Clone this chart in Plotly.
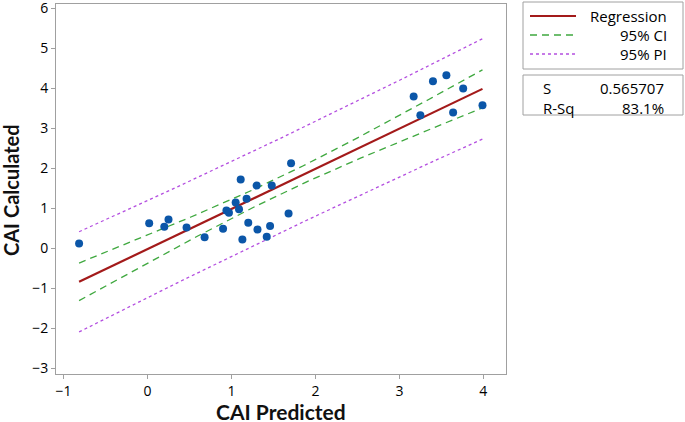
import numpy as np
import plotly.graph_objects as go

# ---- data ----
cai_predicted = [-0.815, 0.02, 0.20, 0.25, 0.465, 0.68, 0.90, 0.94, 0.97, 1.05,
                 1.09, 1.11, 1.13, 1.18, 1.20, 1.30, 1.31, 1.42, 1.46, 1.48,
                 1.68, 1.71, 3.17, 3.25, 3.40, 3.56, 3.64, 3.76, 3.99]
cai_calculated = [0.11, 0.62, 0.53, 0.71, 0.51, 0.27, 0.48, 0.94, 0.88, 1.14,
                  0.97, 1.71, 0.21, 1.23, 0.63, 1.56, 0.46, 0.28, 0.55, 1.56,
                  0.86, 2.12, 3.79, 3.32, 4.17, 4.32, 3.39, 3.99, 3.57]
s_value = 0.565707
s_label = "0.565707"
rsq_label = "83.1%"
t_975_df27 = 2.0518  # Student t quantile for 95% two-sided, n-2 = 27 df
x_ticks = [-1, 0, 1, 2, 3, 4]
y_ticks = [-3, -2, -1, 0, 1, 2, 3, 4, 5, 6]
x_title = "CAI Predicted"
y_title = "CAI Calculated"

x = np.array(cai_predicted)
y = np.array(cai_calculated)
n = len(x)
slope, intercept = np.polyfit(x, y, 1)
xs = np.linspace(x.min(), x.max(), 120)
fit = intercept + slope * xs
xbar = x.mean()
sxx = ((x - xbar) ** 2).sum()
se_mean = s_value * np.sqrt(1.0 / n + (xs - xbar) ** 2 / sxx)
se_pred = s_value * np.sqrt(1.0 + 1.0 / n + (xs - xbar) ** 2 / sxx)
ci_lo, ci_hi = fit - t_975_df27 * se_mean, fit + t_975_df27 * se_mean
pi_lo, pi_hi = fit - t_975_df27 * se_pred, fit + t_975_df27 * se_pred

RED = "#A31A1A"
GREEN = "#3FA83F"
PURPLE = "#B44FE0"
BLUE = "#0B56A8"
FONT = "Open Sans"
TFONT = "Lato"

fig = go.Figure()
for lo_hi, col, dash in [((pi_lo, pi_hi), PURPLE, "3px,3px"), ((ci_lo, ci_hi), GREEN, "7px,5px")]:
    for yy in lo_hi:
        fig.add_trace(go.Scatter(x=xs, y=yy, mode="lines",
                                 line=dict(color=col, width=1.3, dash=dash),
                                 hoverinfo="skip", showlegend=False))
fig.add_trace(go.Scatter(x=xs, y=fit, mode="lines", line=dict(color=RED, width=2.2),
                         showlegend=False))
fig.add_trace(go.Scatter(x=cai_predicted, y=cai_calculated, mode="markers",
                         marker=dict(color=BLUE, size=8), showlegend=False))

W, H = 685, 422
L, R, T, B = 56, 506, 4, 374


def px(v):
    return (v - L) / (R - L)


def py(v):
    return (B - v) / (B - T)


shapes = []
annotations = []
box = dict(type="rect", xref="paper", yref="paper", line=dict(color="#A0A0A0", width=1),
           fillcolor="white", layer="above")
shapes.append(dict(box, x0=px(523), x1=px(683), y0=py(69), y1=py(2)))
shapes.append(dict(box, x0=px(523), x1=px(683), y0=py(115), y1=py(75)))

legend_rows = [("Regression", RED, "solid", 2.2, 16),
               ("95% CI", GREEN, "7px,5px", 1.3, 35),
               ("95% PI", PURPLE, "3px,3px", 1.3, 54)]
for label, col, dash, w, yrow in legend_rows:
    shapes.append(dict(type="line", xref="paper", yref="paper",
                       x0=px(530), x1=px(576), y0=py(yrow), y1=py(yrow),
                       line=dict(color=col, width=w, dash=dash)))
    annotations.append(dict(text=label, xref="paper", yref="paper", x=px(669), y=py(yrow),
                            xanchor="right", yanchor="middle", showarrow=False,
                            font=dict(family=FONT, size=15, color="#000")))

for label, val, yrow in [("S", s_label, 88), ("R-Sq", rsq_label, 108)]:
    annotations.append(dict(text=label, xref="paper", yref="paper", x=px(541), y=py(yrow),
                            xanchor="left", yanchor="middle", showarrow=False,
                            font=dict(family=FONT, size=15, color="#000")))
    annotations.append(dict(text=val, xref="paper", yref="paper", x=px(666), y=py(yrow),
                            xanchor="right", yanchor="middle", showarrow=False,
                            font=dict(family=FONT, size=15, color="#000")))

annotations.append(dict(text="<b>%s</b>" % x_title, xref="paper", yref="paper",
                        x=px(281), y=py(411), xanchor="center", yanchor="middle",
                        showarrow=False, font=dict(family=TFONT, size=21, color="#111")))
annotations.append(dict(text="<b>%s</b>" % y_title, xref="paper", yref="paper",
                        x=px(11), y=py(190), xanchor="center", yanchor="middle",
                        textangle=-90, showarrow=False,
                        font=dict(family=TFONT, size=20, color="#111")))

axis_common = dict(showline=True, mirror=True, linecolor="#A0A0A0", linewidth=1,
                   ticks="outside", ticklen=4, tickcolor="#A0A0A0",
                   showgrid=False, zeroline=False, ticklabeloverflow="allow",
                   tickfont=dict(family=FONT, size=14, color="#000"))

fig.update_layout(
    width=W, height=H,
    margin=dict(l=L, r=W - R, t=T, b=H - B, autoexpand=False),
    paper_bgcolor="white", plot_bgcolor="white",
    xaxis=dict(axis_common, range=[-1.09, 4.27], tickvals=x_ticks, automargin=False),
    yaxis=dict(axis_common, range=[-3.15, 6.1], tickvals=y_ticks, automargin=False),
    shapes=shapes, annotations=annotations,
)

# the page body's default 8px margin would shift the figure; remove it
fig.write_html("out.html", config={"displayModeBar": False},
               post_script="document.body.style.margin='0';")
